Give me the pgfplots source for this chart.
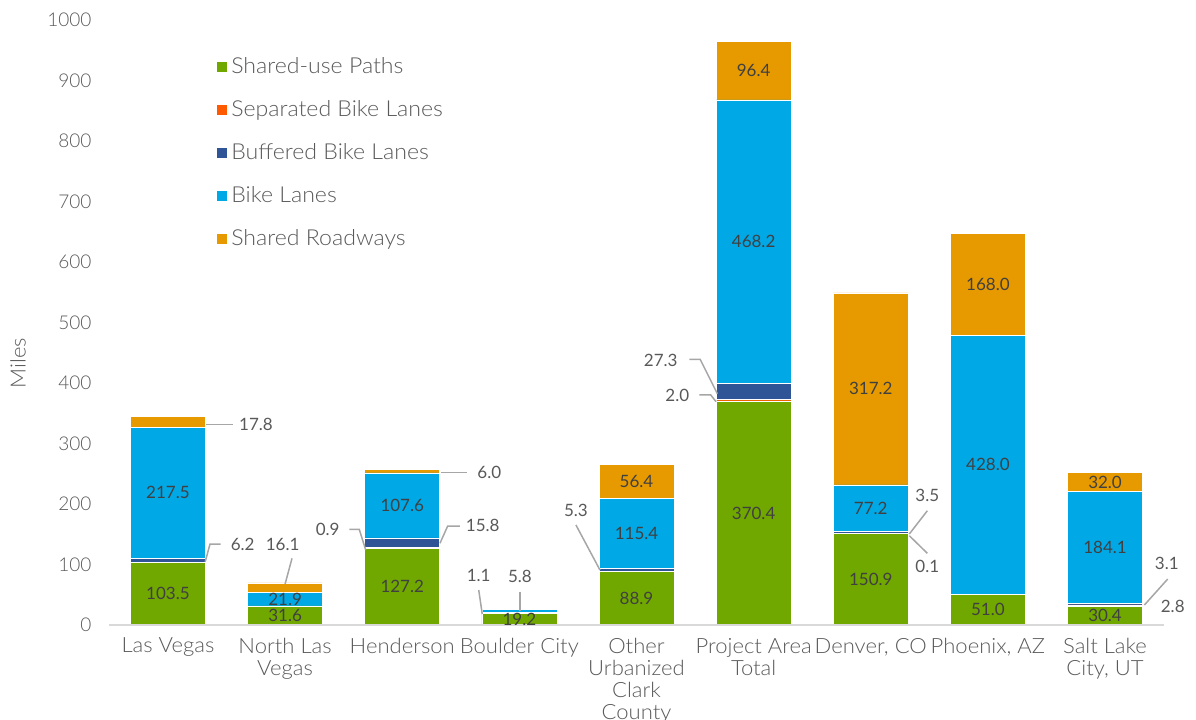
\documentclass[border=0pt]{standalone}
\usepackage{pgfplots}
\pgfplotsset{compat=1.18}
\usepackage{pgfplotstable}
\usepackage{fontspec}
\setmainfont{Lato}[UprightFont=* Light]
\newfontfamily\widefont{Lato}[UprightFont=* Light, FakeStretch=1.05]
\newfontfamily\numfont{Lato}
\definecolor{cSUP}{HTML}{70A800}
\definecolor{cSEP}{HTML}{FF5A00}
\definecolor{cBUF}{HTML}{2F5597}
\definecolor{cBL}{HTML}{00A8E6}
\definecolor{cSR}{HTML}{E69A00}
\definecolor{tickc}{HTML}{595959}
\definecolor{inlab}{HTML}{404040}
\definecolor{lead}{HTML}{A6A6A6}
\definecolor{basec}{HTML}{D9D9D9}

\pgfplotstableread{
x SUP SEP BUF BL SR
0 103.5 0 6.2 217.5 17.8
1 31.6 0 0 21.9 16.1
2 127.2 0.9 15.8 107.6 6.0
3 19.2 1.1 0 5.8 0
4 88.9 0 5.3 115.4 56.4
5 370.4 2.0 27.3 468.2 96.4
6 150.9 0.1 3.5 77.2 317.2
7 51.0 0 0 428.0 168.0
8 30.4 2.8 3.1 184.1 32.0
}\bikedata

\tikzset{
  inl/.style={text=inlab, font=\numfont\fontsize{8.5pt}{10pt}\selectfont},
  cal/.style={text=tickc, font=\numfont\fontsize{8.5pt}{10pt}\selectfont},
  ld/.style={draw=lead, line width=0.75pt},
}

\begin{document}
\begin{tikzpicture}[font=\fontsize{9.5pt}{11pt}\selectfont]
\begin{axis}[
  set layers=standard,
  every axis plot/.append style={on layer=axis background},
  scale only axis, width=527.1pt, height=302.5pt,
  xmin=-0.5, xmax=8.5, ymin=0, ymax=1000,
  ybar stacked, bar width=37.5pt,
  clip=false,
  axis x line*=bottom, axis y line*=left,
  y axis line style={draw=none},
  x axis line style={draw=basec, line width=0.75pt, -},
  major tick length=0pt,
  ytick={0,100,...,1000},
  /pgf/number format/assume math mode=true,
  /pgf/number format/1000 sep={},
  xtick={0,...,8},
  xticklabels={Las Vegas, {North Las\\Vegas}, Henderson, Boulder City, {Other\\Urbanized\\Clark\\County}, {Project Area\\Total}, {Denver, CO}, {Phoenix, AZ}, {Salt Lake\\City, UT}},
  xticklabel style={align=center, color=tickc, font=\widefont\fontsize{10.5pt}{11pt}\selectfont, yshift=-3pt},
  yticklabel style={color=tickc, font=\fontsize{9.5pt}{11pt}\selectfont, xshift=-5.5pt},
  ylabel={Miles},
  ylabel style={at={(axis description cs:-0.0867,0.433)}, anchor=center, color=tickc, font=\widefont\fontsize{10.5pt}{11pt}\selectfont},
  legend cell align=left,
  legend image code/.code={\fill[#1,draw=none] (0pt,-2.5pt) rectangle (5pt,2.5pt);},
  legend style={draw=none, fill=none, at={(axis description cs:0.102,0.942)}, anchor=north west,
    font=\widefont\fontsize{11pt}{12pt}\selectfont, text=tickc, row sep=10pt, inner sep=0pt,
    nodes={inner sep=1pt}},
  /tikz/every odd column/.append style={column sep=1pt},
]
\addplot[fill=cSUP, draw=white, line width=0.25pt] table[x=x, y=SUP] {\bikedata};
\addplot[fill=cSEP, draw=white, line width=0.25pt] table[x=x, y=SEP] {\bikedata};
\addplot[fill=cBUF, draw=white, line width=0.25pt] table[x=x, y=BUF] {\bikedata};
\addplot[fill=cBL, draw=white, line width=0.25pt] table[x=x, y=BL] {\bikedata};
\addplot[fill=cSR, draw=white, line width=0.25pt] table[x=x, y=SR] {\bikedata};
\legend{Shared-use Paths, Separated Bike Lanes, Buffered Bike Lanes, Bike Lanes, Shared Roadways}

\coordinate (bl) at (rel axis cs:0,0);
\coordinate (tr) at (rel axis cs:1,1);

\node[inl] at (axis cs:0,51.75) {103.5};
\node[inl] at (axis cs:0,218.45) {217.5};
\node[inl] at (axis cs:1,15.8) {31.6};
\node[inl] at (axis cs:1,42.55) {21.9};
\node[inl] at (axis cs:2,63.6) {127.2};
\node[inl] at (axis cs:2,197.7) {107.6};
\node[inl] at (axis cs:3,9.6) {19.2};
\node[inl] at (axis cs:4,44.45) {88.9};
\node[inl] at (axis cs:4,151.9) {115.4};
\node[inl] at (axis cs:4,237.8) {56.4};
\node[inl] at (axis cs:5,185.2) {370.4};
\node[inl] at (axis cs:5,633.8) {468.2};
\node[inl] at (axis cs:5,916.1) {96.4};
\node[inl] at (axis cs:6,75.45) {150.9};
\node[inl] at (axis cs:6,193.1) {77.2};
\node[inl] at (axis cs:6,390.3) {317.2};
\node[inl] at (axis cs:7,25.5) {51.0};
\node[inl] at (axis cs:7,265) {428.0};
\node[inl] at (axis cs:7,563) {168.0};
\node[inl] at (axis cs:8,15.2) {30.4};
\node[inl] at (axis cs:8,128.35) {184.1};
\node[inl] at (axis cs:8,236.4) {32.0};

\draw[ld] (axis cs:0.324,331.7) -- (axis cs:0.552,331.7);
\node[cal] at (axis cs:0.751,332) {17.8};
\draw[ld] (axis cs:0.318,104.6) -- (axis cs:0.359,133.9) -- (axis cs:0.450,133.9);
\node[cal] at (axis cs:0.638,133.9) {6.2};
\draw[ld] (axis cs:1.0,67.8) -- (axis cs:1.059,110.2);
\node[cal] at (axis cs:0.979,133.9) {16.1};
\draw[ld] (axis cs:1.548,158.2) -- (axis cs:1.633,158.2) -- (axis cs:1.688,124);
\node[cal] at (axis cs:1.364,158.2) {0.9};
\draw[ld] (axis cs:2.331,251.7) -- (axis cs:2.555,251.7);
\node[cal] at (axis cs:2.743,251.7) {6.0};
\draw[ld] (axis cs:2.322,135) -- (axis cs:2.388,163.6) -- (axis cs:2.493,163.6);
\node[cal] at (axis cs:2.687,165.3) {15.8};
\draw[ld] (axis cs:2.653,57.9) -- (axis cs:2.683,18.2);
\node[cal] at (axis cs:2.653,82.6) {1.1};
\draw[ld] (axis cs:3.005,55) -- (axis cs:3.005,23.6);
\node[cal] at (axis cs:3.005,81) {5.8};
\draw[ld] (axis cs:3.483,165.3) -- (axis cs:3.688,90.9);
\node[cal] at (axis cs:3.483,190) {5.3};
\draw[ld] (axis cs:4.451,439.2) -- (axis cs:4.543,439.2) -- (axis cs:4.690,382.3);
\node[cal] at (axis cs:4.207,438) {27.3};
\draw[ld] (axis cs:4.536,380.2) -- (axis cs:4.634,380.2) -- (axis cs:4.679,369.1);
\node[cal] at (axis cs:4.348,380.2) {2.0};
\draw[ld] (axis cs:6.483,188.9) -- (axis cs:6.329,150.4);
\node[cal] at (axis cs:6.483,214.9) {3.5};
\draw[ld] (axis cs:6.329,147.6) -- (axis cs:6.483,118.5);
\node[cal] at (axis cs:6.483,96.4) {0.1};
\draw[ld] (axis cs:8.535,76) -- (axis cs:8.336,33.1);
\node[cal] at (axis cs:8.527,102) {3.1};
\node[cal] at (axis cs:8.578,30.2) {2.8};
\end{axis}
\pgfresetboundingbox
\path[use as bounding box] ([shift={(-54.7pt,-47pt)}]bl) rectangle ([shift={(16.2pt,10pt)}]tr);
\end{tikzpicture}
\end{document}
